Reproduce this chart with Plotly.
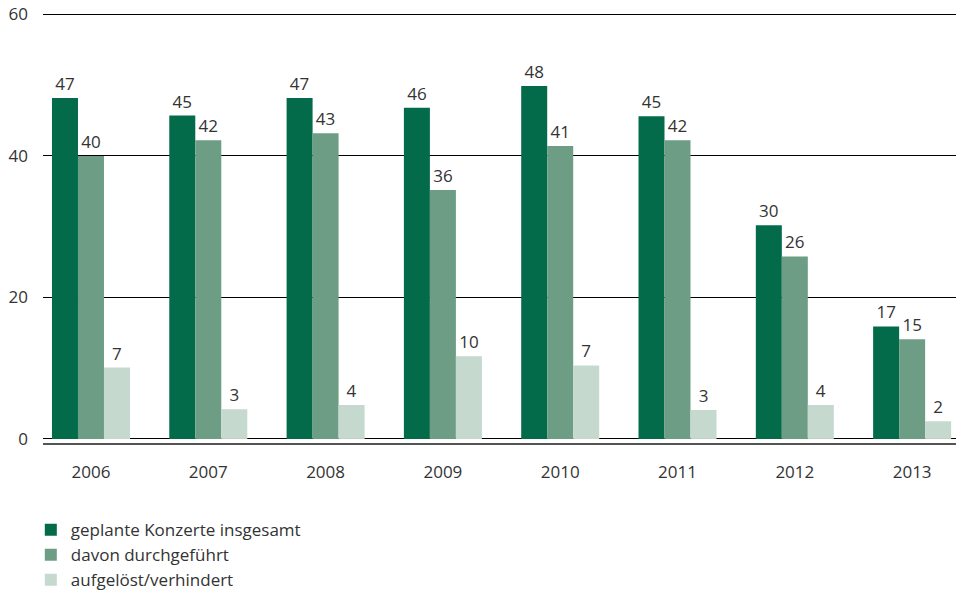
import plotly.graph_objects as go

years = ["2006", "2007", "2008", "2009", "2010", "2011", "2012", "2013"]

series_names = ["geplante Konzerte insgesamt", "davon durchgeführt", "aufgelöst/verhindert"]

# bar heights as drawn in the reference
geplant = [48.2, 45.7, 48.2, 46.8, 49.9, 45.6, 30.2, 15.9]
durchgefuehrt = [40.0, 42.2, 43.2, 35.2, 41.4, 42.2, 25.8, 14.1]
aufgeloest = [10.1, 4.2, 4.8, 11.7, 10.4, 4.1, 4.8, 2.5]

# value labels as printed in the reference
geplant_labels = ["47", "45", "47", "46", "48", "45", "30", "17"]
durchgefuehrt_labels = ["40", "42", "43", "36", "41", "42", "26", "15"]
aufgeloest_labels = ["7", "3", "4", "10", "7", "3", "4", "2"]

y_ticks = [0, 20, 40, 60]

colors = ["#046b4a", "#6d9e85", "#c5d9ce"]
FONT = "Open Sans"
TXT = "#333333"
FS = 17

fig = go.Figure()
for name, vals, labs, col in zip(
    series_names,
    [geplant, durchgefuehrt, aufgeloest],
    [geplant_labels, durchgefuehrt_labels, aufgeloest_labels],
    colors,
):
    fig.add_trace(go.Bar(
        x=years, y=vals, name=name,
        marker=dict(color=col, line=dict(width=0)),
        text=labs, textposition="outside", cliponaxis=False,
        textfont=dict(family=FONT, size=FS, color=TXT),
    ))

fig.update_layout(
    width=963, height=592,
    margin=dict(l=43, r=7, t=13, b=149, autoexpand=False),
    paper_bgcolor="white", plot_bgcolor="white",
    barmode="group", bargap=0.335, bargroupgap=0,
    font=dict(family=FONT, size=FS, color=TXT),
    showlegend=True,
    legend=dict(
        orientation="v", xref="container", yref="container",
        x=0.032, y=0.135, xanchor="left", yanchor="top",
        font=dict(family=FONT, size=FS, color=TXT),
        tracegroupgap=0, itemclick=False,
    ),
    xaxis=dict(
        type="category", range=[-0.409, 7.374],
        showgrid=False, showline=True, linecolor="#555555", linewidth=1.5,
        ticks="", ticklabelstandoff=13,
        tickfont=dict(family=FONT, size=FS, color=TXT),
    ),
    yaxis=dict(
        range=[-0.57, 60.2], tickvals=y_ticks,
        showgrid=True, gridcolor="#000000", gridwidth=1,
        zeroline=False, showline=False, ticks="", ticklabelstandoff=14,
        ticklabeloverflow="allow",
        tickfont=dict(family=FONT, size=FS, color=TXT),
    ),
)

# remove the browser's default page margin so the figure sits at the window's corner
fig.write_html(
    "out.html",
    config={"displayModeBar": False},
    post_script="document.body.style.margin='0px';",
)
